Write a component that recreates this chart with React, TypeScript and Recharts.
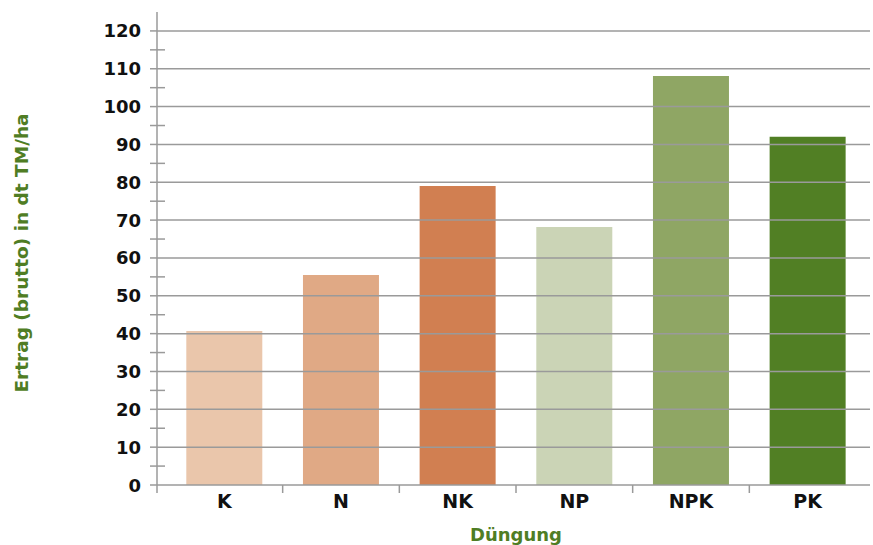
import { BarChart, Bar, XAxis, YAxis, Cell, ReferenceLine, Label } from 'recharts';

const categories = ['K', 'N', 'NK', 'NP', 'NPK', 'PK'];
const yields = [40.7, 55.5, 79, 68.2, 108.1, 92];
const barColors = ['#eac6ab', '#e0a985', '#d17f51', '#cbd4b6', '#8fa664', '#517f24'];
const yTicks = [0, 5, 10, 15, 20, 25, 30, 35, 40, 45, 50, 55, 60, 65, 70, 75, 80, 85, 90, 95, 100, 105, 110, 115, 120];
const gridValues = [10, 20, 30, 40, 50, 60, 70, 80, 90, 100, 110, 120];

const data = categories.map((name, i) => ({ name, value: yields[i] }));

const AXIS_X = 157;
const BASE_Y = 485;
const BAND = 116.67;
const GRID = '#9a9a9a';
const GREEN = '#4f7d24';
const FONT = '"DejaVu Sans", sans-serif';

const YTick = (props: any) => {
  const { y, payload } = props;
  const v = payload.value;
  if (v % 10 !== 0) {
    return <line x1={AXIS_X - 7} x2={AXIS_X + 8} y1={y} y2={y} stroke={GRID} strokeWidth={1.5} />;
  }
  return (
    <g>
      <line x1={AXIS_X - 7} x2={AXIS_X} y1={y} y2={y} stroke={GRID} strokeWidth={1.5} />
      {v === 0 && <line x1={AXIS_X} x2={AXIS_X} y1={y} y2={y + 8} stroke={GRID} strokeWidth={1.5} />}
      <text x={141} y={y} dy={6.5} textAnchor="end" fontFamily={FONT} fontWeight={700} fontSize={18} fill="#111">
        {v}
      </text>
    </g>
  );
};

const XTick = (props: any) => {
  const { x, payload, index } = props;
  return (
    <g>
      {index < categories.length - 1 && (
        <line x1={x + BAND / 2} x2={x + BAND / 2} y1={BASE_Y} y2={BASE_Y + 8} stroke={GRID} strokeWidth={1.5} />
      )}
      <text x={x} y={508} textAnchor="middle" fontFamily={FONT} fontWeight={700} fontSize={19} fill="#111">
        {payload.value}
      </text>
    </g>
  );
};

export default function App() {
  return (
    <div style={{ position: 'absolute', left: 0, top: 0 }}>
      <BarChart
        width={873}
        height={545}
        data={data}
        margin={{ top: 12, right: 3, bottom: 30, left: 0 }}
        barCategoryGap="17.4%"
      >
        <XAxis
          dataKey="name"
          height={30}
          padding={{ left: 9, right: 4 }}
          axisLine={{ stroke: GRID, strokeWidth: 1.5 }}
          tickLine={false}
          tick={<XTick />}
          interval={0}
        >
          <Label
            content={() => (
              <text x={516} y={541} textAnchor="middle" fontFamily={FONT} fontWeight={700} fontSize={18} fill={GREEN}>
                Düngung
              </text>
            )}
          />
        </XAxis>
        <YAxis
          width={157}
          domain={[0, 125]}
          ticks={yTicks}
          interval={0}
          axisLine={{ stroke: GRID, strokeWidth: 1.5 }}
          tickLine={false}
          tick={<YTick />}
        >
          <Label
            content={() => (
              <text
                x={28}
                y={253}
                transform="rotate(-90 28 253)"
                textAnchor="middle"
                fontFamily={FONT}
                fontWeight={700}
                fontSize={18.5}
                fill={GREEN}
              >
                Ertrag (brutto) in dt TM/ha
              </text>
            )}
          />
        </YAxis>
        {gridValues.map((v) => (
          <ReferenceLine key={v} y={v} stroke={GRID} strokeWidth={1.5} />
        ))}
        <Bar dataKey="value" isAnimationActive={false}>
          {data.map((d, i) => (
            <Cell key={d.name} fill={barColors[i]} />
          ))}
        </Bar>
      </BarChart>
    </div>
  );
}
